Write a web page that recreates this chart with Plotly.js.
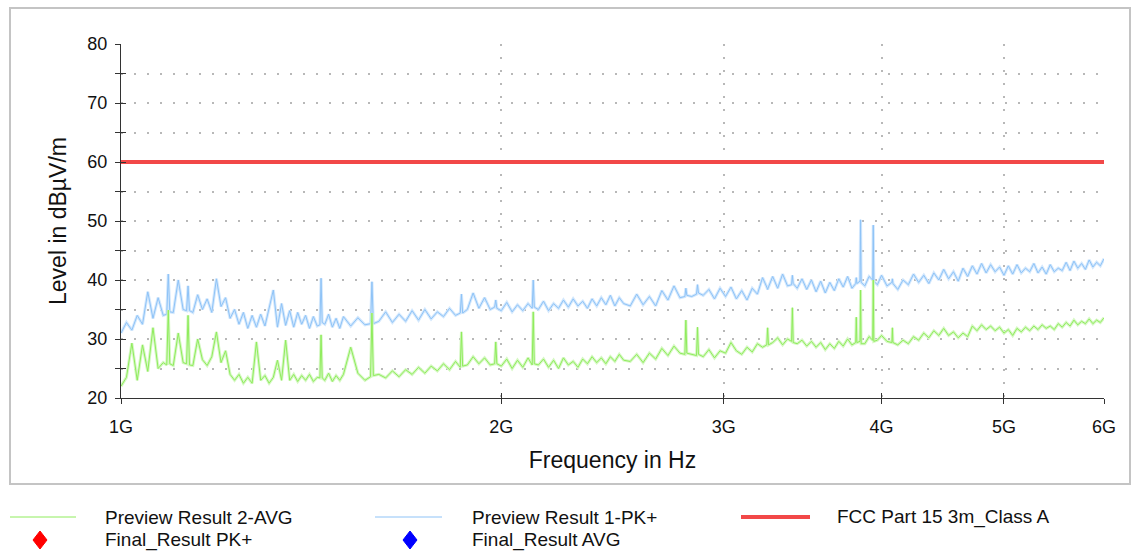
<!DOCTYPE html>
<html>
<head>
<meta charset="utf-8">
<script src="https://cdn.plot.ly/plotly-3.0.1.min.js"></script>
<style>
html,body{margin:0;padding:0;background:#fff;}
#chart{width:1139px;height:556px;}
</style>
</head>
<body>
<div id="chart"></div>
<script>
// Frequency grid of the preview scans, MHz
const freqMHz = [
1000,1010,1020,1030,1040,1050,1060,1070,1080,1087,1090,1093,
1100,1110,1120,1127,1130,1133,1140,1150,1160,1170,1180,1190,
1200,1210,1220,1230,1240,1250,1260,1270,1280,1290,
1300,1310,1320,1330,1340,1350,1360,1370,1380,1390,
1400,1410,1420,1430,1437,1440,1443,1450,1460,1470,1480,1490,
1500,
1520,1540,1560,1576,1580,1584,1600,1620,1640,1660,1680,1700,
1720,1740,1760,1780,1800,1820,1840,1856,1860,1864,1880,1900,
1920,1940,1960,1976,1980,1984,2000,2020,2040,2060,2080,2100,
2116,2120,2124,2140,2160,2180,2200,2220,2240,2260,2280,2300,
2320,2340,2360,2380,2400,2420,2440,2460,2480,2500,
2530,2560,2590,2620,2650,2680,2710,2740,2770,2795,2800,2805,
2830,2855,2860,2865,2890,2920,2950,2980,3010,3040,3070,3100,
3130,3160,3190,3220,3245,3250,3255,3280,3310,3340,3370,3395,3400,3405,
3430,3460,3490,3520,3550,3580,3610,3640,3670,3700,
3730,3760,3790,3816,3820,3824,3846,3850,3854,3880,3910,3936,3940,3944,3970,4000,
4040,4076,4080,4084,4120,4160,4200,4240,4280,4320,4360,4400,
4440,4480,4520,4560,4600,4640,4680,4720,4760,4800,
4840,4880,4920,4960,5000,5040,5080,5120,5160,5200,
5240,5280,5320,5360,5400,5440,5480,5520,5560,5600,
5640,5680,5720,5760,5800,5840,5880,5920,5960,6000
];

// Preview Result 1-PK+ (dBµV/m)
const previewPK = [
31.0,32.8,31.5,34.0,32.5,38.0,33.5,37.0,34.0,34.2,41.0,34.6,
34.5,40.0,35.0,34.8,39.0,34.8,34.5,37.5,35.0,36.8,34.5,40.2,
35.5,37.0,33.5,35.0,32.5,34.5,31.8,34.0,32.0,34.2,
32.2,35.5,38.3,32.0,36.0,32.3,34.8,32.0,34.5,32.5,
34.0,31.8,33.8,32.2,32.4,40.3,32.8,32.5,34.2,32.0,33.5,31.8,
33.8,
32.2,33.6,32.4,32.6,39.7,32.6,33.0,34.6,32.8,34.2,33.0,34.8,
33.2,35.0,33.4,34.6,33.8,35.2,34.0,34.4,37.6,34.4,35.0,37.8,
35.2,37.0,35.0,35.4,36.6,35.2,34.8,36.2,34.6,35.8,34.8,36.0,
35.2,40.0,35.4,35.0,36.4,34.8,36.0,35.2,36.6,35.4,36.8,35.6,
36.4,35.2,36.8,35.6,37.0,35.8,37.4,35.6,37.0,36.0,
35.6,37.6,35.8,37.2,35.6,38.2,36.6,39.0,37.0,37.2,38.6,37.4,
37.2,37.6,39.2,37.8,37.4,38.4,36.8,38.6,37.2,38.8,36.8,38.2,
36.6,38.6,37.6,40.4,38.8,38.4,38.8,40.6,38.6,41.0,39.0,39.2,40.8,39.4,
38.6,40.2,38.4,40.0,38.0,39.8,37.8,39.6,38.2,40.2,
38.8,40.6,38.6,39.4,40.4,39.4,39.8,50.2,39.6,39.0,40.6,40.0,49.3,39.8,39.2,40.8,
39.0,39.6,40.2,39.4,38.4,40.0,39.2,41.0,39.6,40.8,39.4,41.2,
40.0,41.8,40.2,41.4,39.8,42.0,40.6,42.4,41.0,42.8,
41.2,42.6,41.4,42.2,40.8,42.4,41.0,42.6,41.2,42.0,
41.4,42.8,41.2,42.2,41.0,42.6,41.4,42.0,41.6,43.0,
41.6,43.2,42.0,42.8,41.8,43.4,42.2,43.0,42.4,43.6
];

// Preview Result 2-AVG (dBµV/m)
const previewAVG = [
22.0,23.5,29.3,23.0,29.0,24.5,31.9,25.0,26.0,25.6,34.9,25.8,
25.5,31.0,26.0,25.8,34.0,25.6,25.5,30.0,26.5,25.5,27.0,31.2,
26.0,28.0,24.0,23.0,24.0,22.5,23.5,22.5,29.5,23.0,
23.8,22.5,23.5,26.4,23.0,29.8,23.0,24.0,22.8,23.8,
23.0,24.0,22.8,23.5,23.4,30.7,23.4,23.0,24.2,22.8,23.8,23.0,
24.0,
28.6,24.2,23.0,23.6,34.4,23.8,24.0,23.4,24.6,23.6,24.8,24.0,
25.2,24.2,25.4,24.6,25.8,24.8,26.2,25.2,31.2,25.4,25.6,27.0,
25.8,26.8,25.6,25.8,29.5,25.8,25.4,26.6,25.0,26.4,25.2,26.8,
25.6,34.6,25.8,25.6,26.6,25.2,26.4,25.0,26.8,25.6,26.2,25.2,
26.6,25.8,27.0,26.0,26.8,25.8,27.0,26.2,27.4,26.4,
26.2,27.4,26.0,27.6,26.6,28.4,27.2,28.8,27.6,27.4,33.2,27.6,
27.4,27.2,32.0,27.4,27.0,28.2,26.8,28.0,27.6,29.4,28.0,27.4,
28.6,27.8,29.2,28.6,29.0,31.9,29.0,29.4,30.2,29.0,30.0,29.6,35.3,29.4,
29.2,29.8,28.8,29.6,28.6,29.4,28.2,29.2,28.4,29.6,
28.8,30.0,29.0,29.4,33.7,29.4,29.6,38.3,29.2,29.2,30.4,29.8,40.0,29.6,29.8,30.6,
29.6,29.4,31.9,29.4,29.0,29.8,29.2,30.4,29.8,31.0,30.2,31.4,
30.6,31.8,30.6,31.2,30.2,31.0,30.4,32.2,31.4,32.4,
31.6,32.2,31.4,32.0,31.0,31.6,30.6,31.8,31.2,32.0,
31.4,32.2,31.6,32.4,31.8,32.2,31.6,32.6,32.0,32.8,
32.2,33.2,32.4,33.0,32.6,33.4,32.6,33.2,32.8,33.6
];

// FCC Part 15 3m_Class A limit
const limitFreqMHz = [1000, 6000];
const limitLevel = [60, 60];

// Axis ticks
const xTickMHz = [1000, 2000, 3000, 4000, 5000, 6000];
const xTickText = ['1G', '2G', '3G', '4G', '5G', '6G'];

// Legend labels
const legendNames = ['Preview Result 2-AVG', 'Preview Result 1-PK+', 'FCC Part 15 3m_Class A', 'Final_Result PK+', 'Final_Result AVG'];

const toHz = a => a.map(v => v * 1e6);
const FONT = 'Liberation Sans, Arial, sans-serif';
const C_BLUE = '#8ec3f7';
const C_BLUE_LIGHT = '#d3e8fd';
const C_GREEN = '#8fec5c';
const C_GREEN_LIGHT = '#d6f8c4';
const C_RED = '#f24848';
const GRID = '#b8b8b8';
const AX = '#333333';

const traces = [
  {x: toHz(freqMHz), y: previewPK, type: 'scatter', mode: 'lines', name: legendNames[1] + ' envelope',
   line: {color: C_BLUE_LIGHT, width: 3}, showlegend: false, hoverinfo: 'skip'},
  {x: toHz(freqMHz), y: previewPK, type: 'scatter', mode: 'lines', name: legendNames[1],
   line: {color: C_BLUE, width: 1}, showlegend: false},
  {x: toHz(freqMHz), y: previewAVG, type: 'scatter', mode: 'lines', name: legendNames[0] + ' envelope',
   line: {color: C_GREEN_LIGHT, width: 3}, showlegend: false, hoverinfo: 'skip'},
  {x: toHz(freqMHz), y: previewAVG, type: 'scatter', mode: 'lines', name: legendNames[0],
   line: {color: C_GREEN, width: 1}, showlegend: false},
  {x: toHz(limitFreqMHz), y: limitLevel, type: 'scatter', mode: 'lines', name: legendNames[2],
   line: {color: C_RED, width: 4}, xaxis: 'x2', yaxis: 'y2', showlegend: false}
];

const xr = [9, Math.log10(6e9)];
const L = 121, R = 1104, T = 44, B = 398;
const px = v => (v - L) / (R - L);
const py = v => (B - v) / (B - T);

const legRow1 = py(517), legRow2 = py(540);

function diamond(cx, cy, hw, hh) {
  const x = px(cx), y = py(cy), w = hw / (R - L), h = hh / (B - T);
  return `M ${x - w},${y} L ${x},${y + h} L ${x + w},${y} L ${x},${y - h} Z`;
}

const shapes = [
  {type: 'rect', xref: 'paper', yref: 'paper', x0: px(10), x1: px(1130), y0: py(484), y1: py(8),
   line: {color: '#c4c4c4', width: 2}, layer: 'below'},
  {type: 'line', xref: 'paper', yref: 'paper', x0: px(10), x1: px(76), y0: legRow1, y1: legRow1,
   line: {color: C_GREEN, width: 1}},
  {type: 'line', xref: 'paper', yref: 'paper', x0: px(375), x1: px(442), y0: legRow1, y1: legRow1,
   line: {color: C_BLUE, width: 1}},
  {type: 'line', xref: 'paper', yref: 'paper', x0: px(741), x1: px(810), y0: legRow1, y1: legRow1,
   line: {color: C_RED, width: 4}},
  {type: 'path', xref: 'paper', yref: 'paper', path: diamond(40, 540, 7, 9),
   fillcolor: '#ff0000', line: {color: '#ff0000', width: 1}},
  {type: 'path', xref: 'paper', yref: 'paper', path: diamond(410, 540, 7, 9),
   fillcolor: '#0000ff', line: {color: '#0000ff', width: 1}}
];

const annFont = {family: FONT, size: 19, color: '#111'};
const annotations = [
  {text: legendNames[0], x: px(103), y: legRow1},
  {text: legendNames[1], x: px(470), y: legRow1},
  {text: legendNames[2], x: px(835), y: legRow1},
  {text: legendNames[3], x: px(103), y: legRow2},
  {text: legendNames[4], x: px(470), y: legRow2}
].map(a => Object.assign(a, {xref: 'paper', yref: 'paper', xanchor: 'left', yanchor: 'middle',
  showarrow: false, font: annFont}));

const layout = {
  width: 1139, height: 556,
  margin: {l: L, r: 1139 - R, t: T, b: 556 - B, pad: 0},
  paper_bgcolor: '#ffffff', plot_bgcolor: '#ffffff',
  font: {family: FONT, color: '#111'},
  showlegend: false,
  xaxis: {
    type: 'log', range: xr, tickvals: toHz(xTickMHz), ticktext: xTickText,
    ticks: 'outside', ticklen: 5, tickcolor: AX, tickwidth: 1,
    showline: true, linecolor: AX, linewidth: 1, zeroline: false,
    showgrid: true, gridcolor: GRID, gridwidth: 2, griddash: '2px,11px',
    tickfont: {family: FONT, size: 18, color: '#111'}, ticklabelstandoff: 7,
    title: {text: 'Frequency in Hz', font: {family: FONT, size: 23, color: '#111'}, standoff: 16}
  },
  yaxis: {
    range: [20, 80], tick0: 20, dtick: 10,
    ticks: 'outside', ticklen: 5, tickcolor: AX, tickwidth: 1,
    showline: true, linecolor: AX, linewidth: 1, zeroline: false,
    showgrid: true, gridcolor: GRID, gridwidth: 2, griddash: '2px,11px',
    minor: {dtick: 5, ticks: 'outside', ticklen: 5, tickcolor: AX, tickwidth: 1,
            showgrid: true, gridcolor: GRID, gridwidth: 2, griddash: '2px,11px'},
    tickfont: {family: FONT, size: 18, color: '#111'}, ticklabelstandoff: 4,
    title: {text: 'Level in dBµV/m', font: {family: FONT, size: 23, color: '#111'}, standoff: 14}
  },
  xaxis2: {
    type: 'log', range: xr, overlaying: 'x', anchor: 'y2', side: 'bottom',
    tickvals: toHz(xTickMHz), ticks: 'inside', ticklen: 5, tickcolor: AX, tickwidth: 1,
    showticklabels: false, showgrid: false, showline: false, zeroline: false
  },
  yaxis2: {
    range: [20, 80], overlaying: 'y', anchor: 'x2', side: 'left', tick0: 20, dtick: 5,
    ticks: 'inside', ticklen: 5, tickcolor: AX, tickwidth: 1,
    showticklabels: false, showgrid: false, showline: false, zeroline: false
  },
  shapes: shapes,
  annotations: annotations
};

Plotly.newPlot('chart', traces, layout, {displayModeBar: false, staticPlot: true});
</script>
</body>
</html>
